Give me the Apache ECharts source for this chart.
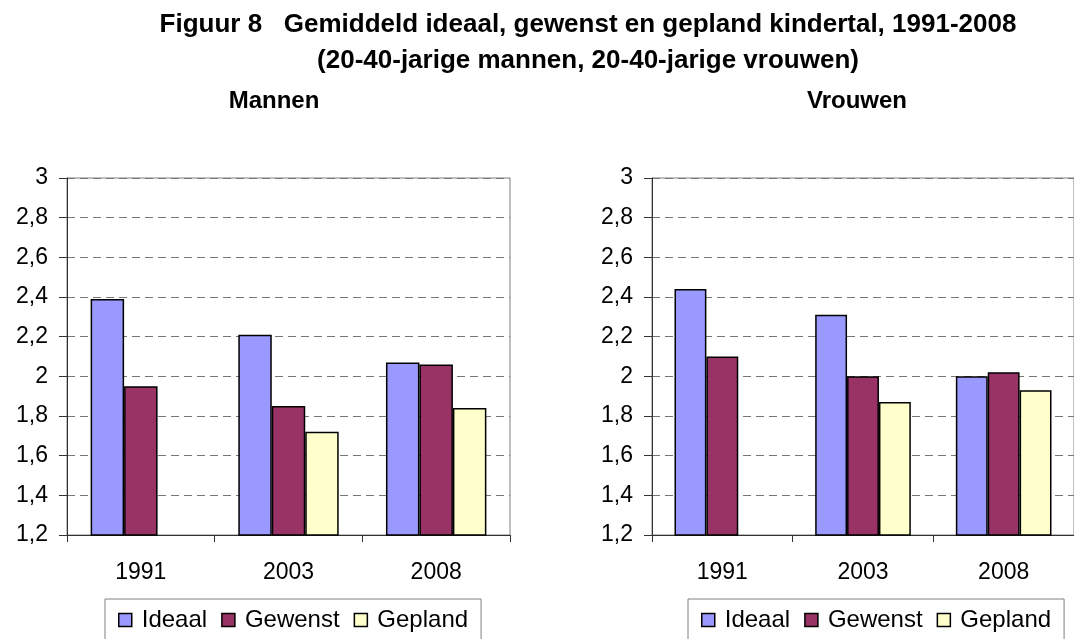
<!DOCTYPE html>
<html>
<head>
<meta charset="utf-8">
<script src="https://cdn.jsdelivr.net/npm/echarts@6/dist/echarts.min.js"></script>
<style>
  html, body { margin: 0; padding: 0; background: #fff; }
  #main { width: 1074px; height: 639px; }
</style>
</head>
<body>
<div id="main"></div>
<script>
// categorieën en reeksen
var years = ['1991', '2003', '2008']
var seriesNames = ['Ideaal', 'Gewenst', 'Gepland']
var colors = ['#9999FF', '#993366', '#FFFFCC']

// Mannen
var mannenIdeaal = [2.39, 2.21, 2.07]
var mannenGewenst = [1.95, 1.85, 2.06]
var mannenGepland = [null, 1.72, 1.84]

// Vrouwen
var vrouwenIdeaal = [2.44, 2.31, 2.00]
var vrouwenGewenst = [2.10, 2.00, 2.02]
var vrouwenGepland = [null, 1.87, 1.93]

var yMin = 1.2
var yMax = 3
var yStep = 0.2

var font = 'Liberation Sans, Arial, sans-serif'

function fmt (v) {
  return String(Math.round(v * 10) / 10).replace('.', ',')
}

function xAxis (idx) {
  return {
    type: 'category',
    gridIndex: idx,
    data: years,
    axisLine: { lineStyle: { color: '#333', width: 1 } },
    axisTick: { show: true, length: 7, lineStyle: { color: '#333' } },
    axisLabel: { color: '#000', fontFamily: font, fontSize: 23, margin: 26 }
  }
}

function yAxis (idx) {
  return {
    type: 'value',
    gridIndex: idx,
    min: yMin,
    max: yMax,
    interval: yStep,
    axisLine: { show: true, lineStyle: { color: '#333', width: 1 } },
    axisTick: { show: true, length: 8, lineStyle: { color: '#333' } },
    axisLabel: { color: '#000', fontFamily: font, fontSize: 23, margin: 19, formatter: fmt },
    splitLine: { show: true, lineStyle: { color: '#777', type: [8, 5], width: 1 } }
  }
}

function bars (name, data, idx, color) {
  return {
    name: name,
    type: 'bar',
    xAxisIndex: idx,
    yAxisIndex: idx,
    data: data,
    barGap: '0%',
    barCategoryGap: '32%',
    itemStyle: { color: color, borderColor: '#000', borderWidth: 1.5 }
  }
}

function legend (left) {
  return {
    data: seriesNames,
    left: left,
    top: 599,
    orient: 'horizontal',
    itemWidth: 13,
    itemHeight: 13,
    itemGap: 14,
    padding: [9, 13, 30, 13],
    borderColor: '#808080',
    borderWidth: 1,
    icon: 'rect',
    itemStyle: { borderColor: '#000', borderWidth: 1.5 },
    textStyle: { color: '#000', fontFamily: font, fontSize: 24, padding: [0, 0, 0, 5] }
  }
}

var chart = echarts.init(document.getElementById('main'))
chart.setOption({
  animation: false,
  backgroundColor: '#fff',
  title: [
    {
      text: 'Figuur 8   Gemiddeld ideaal, gewenst en gepland kindertal, 1991-2008\n(20-40-jarige mannen, 20-40-jarige vrouwen)',
      left: 583,
      top: 2,
      textAlign: 'center',
      textStyle: { fontFamily: font, fontSize: 26, fontWeight: 'bold', color: '#000', lineHeight: 36 }
    },
    {
      text: 'Mannen',
      left: 269,
      top: 84,
      textAlign: 'center',
      textStyle: { fontFamily: font, fontSize: 24, fontWeight: 'bold', color: '#000' }
    },
    {
      text: 'Vrouwen',
      left: 852,
      top: 84,
      textAlign: 'center',
      textStyle: { fontFamily: font, fontSize: 24, fontWeight: 'bold', color: '#000' }
    }
  ],
  legend: [legend(105), legend(688)],
  grid: [
    { left: 67, top: 178, width: 443, height: 357, show: true, borderColor: '#808080', borderWidth: 1, backgroundColor: 'transparent' },
    { left: 652, top: 178, width: 432, height: 357, show: true, borderColor: '#808080', borderWidth: 1, backgroundColor: 'transparent' }
  ],
  xAxis: [xAxis(0), xAxis(1)],
  yAxis: [yAxis(0), yAxis(1)],
  series: [
    bars('Ideaal', mannenIdeaal, 0, colors[0]),
    bars('Gewenst', mannenGewenst, 0, colors[1]),
    bars('Gepland', mannenGepland, 0, colors[2]),
    bars('Ideaal', vrouwenIdeaal, 1, colors[0]),
    bars('Gewenst', vrouwenGewenst, 1, colors[1]),
    bars('Gepland', vrouwenGepland, 1, colors[2])
  ]
})
</script>
</body>
</html>
